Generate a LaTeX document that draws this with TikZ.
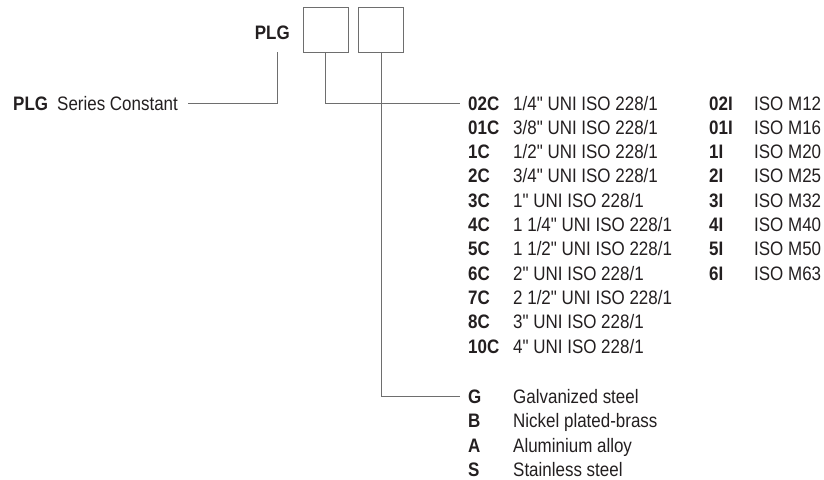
\documentclass[tikz,border=0pt]{standalone}
\usepackage{fontspec}
\setmainfont{Liberation Sans}[Ligatures=TeXOff,FakeStretch=0.87]
\definecolor{linegray}{RGB}{110,110,110}
\definecolor{txt}{RGB}{35,31,32}
\newcommand{\mrow}[5]{%
  \node[code] (#1) at (#2,{#3+7}) {#4};
  \node[desc] (#1d) at ({#2+45},{#3+7}) {#5};}
\begin{document}
\begin{tikzpicture}[x=1pt,y=-1pt,
  code/.style={anchor=base west,inner sep=0pt,text=txt,font=\fontsize{19.5}{22}\selectfont\bfseries},
  desc/.style={anchor=base west,inner sep=0pt,text=txt,font=\fontsize{19.5}{22}\selectfont},
  conn/.style={draw=linegray,line width=1pt},
  boxnode/.style={draw=linegray,line width=1pt,minimum size=45pt,inner sep=0pt}]
\useasboundingbox (0,0) rectangle (824,479);
% boxes and header
\node[boxnode] (b1) at (325.5,29.5) {};
\node[boxnode] (b2) at (381,29.5) {};
\node[code,anchor=base east] (plg) at (290,39) {PLG};
% series constant
\node[code] (plgc) at (13,110) {PLG};
\node[desc] (plgcd) at (57,110) {Series Constant};
% first column
\mrow{c02C}{468}{103}{02C}{1/4" UNI ISO 228/1}
\mrow{c01C}{468}{127.3}{01C}{3/8" UNI ISO 228/1}
\mrow{c1C}{468}{151.6}{1C}{1/2" UNI ISO 228/1}
\mrow{c2C}{468}{175.9}{2C}{3/4" UNI ISO 228/1}
\mrow{c3C}{468}{200.2}{3C}{1" UNI ISO 228/1}
\mrow{c4C}{468}{224.5}{4C}{1 1/4" UNI ISO 228/1}
\mrow{c5C}{468}{248.8}{5C}{1 1/2" UNI ISO 228/1}
\mrow{c6C}{468}{273.1}{6C}{2" UNI ISO 228/1}
\mrow{c7C}{468}{297.4}{7C}{2 1/2" UNI ISO 228/1}
\mrow{c8C}{468}{321.7}{8C}{3" UNI ISO 228/1}
\mrow{c10C}{468}{346}{10C}{4" UNI ISO 228/1}
% second column
\mrow{c02I}{709}{103}{02I}{ISO M12}
\mrow{c01I}{709}{127.3}{01I}{ISO M16}
\mrow{c1I}{709}{151.6}{1I}{ISO M20}
\mrow{c2I}{709}{175.9}{2I}{ISO M25}
\mrow{c3I}{709}{200.2}{3I}{ISO M32}
\mrow{c4I}{709}{224.5}{4I}{ISO M40}
\mrow{c5I}{709}{248.8}{5I}{ISO M50}
\mrow{c6I}{709}{273.1}{6I}{ISO M63}
% materials
\mrow{mG}{468}{396}{G}{Galvanized steel}
\mrow{mB}{468}{420.5}{B}{Nickel plated-brass}
\mrow{mA}{468}{445}{A}{Aluminium alloy}
\mrow{mS}{468}{469.5}{S}{Stainless steel}
% connectors
\coordinate (pt) at (277,52);
\coordinate (pe) at (188,103);
\draw[conn] (pt) |- (pe);
\coordinate (e1) at (460,103);
\draw[conn] (b1.south) |- (e1);
\coordinate (e2) at (460,396);
\draw[conn] (b2.south) |- (e2);
\end{tikzpicture}
\end{document}
